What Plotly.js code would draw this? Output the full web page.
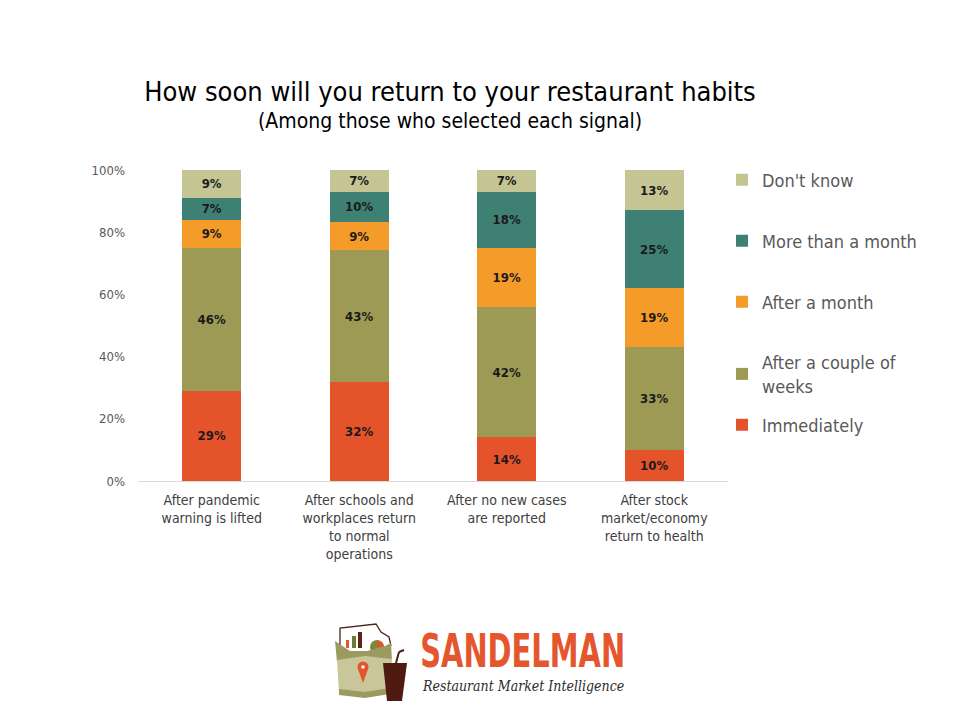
<!DOCTYPE html>
<html>
<head>
<meta charset="utf-8">
<script src="https://cdn.plot.ly/plotly-3.0.1.min.js"></script>
<style>html,body{margin:0;padding:0;background:#fff;}#chart{width:960px;height:720px;}</style>
</head>
<body>
<div id="chart"></div>
<script>
const categories = [
  "After pandemic<br>warning is lifted",
  "After schools and<br>workplaces return<br>to normal<br>operations",
  "After no new cases<br>are reported",
  "After stock<br>market/economy<br>return to health"
];
const immediately = [29, 32, 14, 10];
const coupleWeeks = [46, 43, 42, 33];
const afterMonth = [9, 9, 19, 19];
const moreThanMonth = [7, 10, 18, 25];
const dontKnow = [9, 7, 7, 13];
const yTickVals = [0, 20, 40, 60, 80, 100];
const yTickText = ["0%", "20%", "40%", "60%", "80%", "100%"];

const seriesNames = ["Immediately", "After a couple of<br>weeks", "After a month", "More than a month", "Don't know"];
const seriesData = [immediately, coupleWeeks, afterMonth, moreThanMonth, dontKnow];
const seriesColors = ["#E5532B", "#9C9A55", "#F59B2A", "#3F8075", "#C5C593"];

const FONT = "DejaVu Sans Condensed, DejaVu Sans, sans-serif";

// pixel -> paper helpers
const L = 138, R = 728, T = 170, B = 481;
const X = p => (p - L) / (R - L);
const Y = p => (B - p) / (B - T);

const legendIds = ["legend5", "legend4", "legend3", "legend2", "legend"];
const legendCenters = [425, 374, 302, 241, 180];

const traces = seriesData.map((vals, i) => ({
  type: "bar",
  name: seriesNames[i],
  legend: legendIds[i],
  x: categories,
  y: vals,
  text: vals.map(v => v + "%"),
  textposition: "inside",
  insidetextanchor: "middle",
  textangle: 0,
  textfont: {family: FONT, size: 13, color: "#1a1a1a", weight: "bold"},
  marker: {color: seriesColors[i], line: {width: 0}},
  hoverinfo: "none"
}));

function rect(x0, y0, x1, y1, color) {
  return {type: "rect", xref: "paper", yref: "paper", x0: X(x0), x1: X(x1), y0: Y(y1), y1: Y(y0),
          fillcolor: color, line: {width: 0}, layer: "above"};
}
function path(pts, color) {
  let d = pts.map((p, i) => (i ? "L" : "M") + X(p[0]) + "," + Y(p[1])).join(" ") + " Z";
  return {type: "path", xref: "paper", yref: "paper", path: d, fillcolor: color, line: {width: 0}, layer: "above"};
}
function circle(cx, cy, r, color) {
  return {type: "circle", xref: "paper", yref: "paper", x0: X(cx - r), x1: X(cx + r), y0: Y(cy + r), y1: Y(cy - r),
          fillcolor: color, line: {width: 0}, layer: "above"};
}

const shapes = [
  // sheet with chart
  path([[340,628],[376,624],[381,632],[389,637],[391,660],[340,660]], "#ffffff"),
  {type:"path", xref:"paper", yref:"paper",
   path:"M"+X(340)+","+Y(645)+" L"+X(340)+","+Y(628)+" L"+X(376)+","+Y(624)+" L"+X(381)+","+Y(632)+" L"+X(389)+","+Y(637)+" L"+X(391)+","+Y(646),
   fillcolor:"rgba(0,0,0,0)", line:{color:"#4a2418", width:1.3}, layer:"above"},
  rect(346, 640, 349, 648, "#E5532B"),
  rect(352, 636, 356, 648, "#6E7A3A"),
  rect(358, 632, 362, 648, "#5C2418"),
  circle(377, 647, 7, "#7A8A3A"),
  path([[377,647],[377,640],[383,643],[384,648]], "#E5532B"),
  // back darker fold
  path([[335,641],[350,651],[367,651],[385,646],[391,643],[392,661],[337,662]], "#9C9A5E"),
  // front light panel
  path([[337,660],[365,656],[392,659],[390,692],[365,696],[339,693]], "#C9C69A"),
  // bottom strip
  path([[339,689],[365,692],[390,688],[390,694],[365,698],[339,695]], "#9C9A5E"),
  // pin
  circle(363, 667, 5.5, "#E5532B"),
  path([[357.8,668.5],[368.2,668.5],[363,683]], "#E5532B"),
  circle(363, 667, 1.8, "#ffffff"),
  // cup
  path([[383,663],[407,663],[402,701],[387,701]], "#4F1A12"),
  {type:"line", xref:"paper", yref:"paper", x0:X(396), y0:Y(663), x1:X(399), y1:Y(652), line:{color:"#4F1A12", width:2}, layer:"above"},
  {type:"line", xref:"paper", yref:"paper", x0:X(399), y0:Y(652), x1:X(404), y1:Y(650), line:{color:"#4F1A12", width:2}, layer:"above"}
];

const legendBase = {
  x: X(722), xanchor: "left", yanchor: "middle",
  font: {family: FONT, size: 18, color: "#595959"},
  itemwidth: 30,
  bgcolor: "rgba(0,0,0,0)"
};

const layout = {
  width: 960, height: 720,
  paper_bgcolor: "#ffffff", plot_bgcolor: "#ffffff",
  margin: {l: L, r: 960 - R, t: T, b: 720 - B, pad: 0},
  font: {family: FONT, color: "#595959"},
  title: {
    text: "How soon will you return to your restaurant habits",
    font: {family: FONT, size: 27, color: "#000000"},
    xref: "container", yref: "container",
    x: 450 / 960, xanchor: "center",
    y: 1 - 92 / 720, yanchor: "middle"
  },
  barmode: "stack",
  barnorm: "percent",
  bargap: 0.6,
  showlegend: true,
  xaxis: {
    showline: true, linecolor: "#d9d9d9", linewidth: 1,
    ticks: "", showgrid: false,
    ticklabelstandoff: 6,
    tickfont: {family: FONT, size: 14, color: "#404040"},
    fixedrange: true
  },
  yaxis: {
    range: [0, 100],
    tickvals: yTickVals, ticktext: yTickText,
    showgrid: false, zeroline: false, showline: false, ticks: "",
    ticklabelstandoff: 12,
    tickfont: {family: FONT, size: 13, color: "#595959"},
    fixedrange: true
  },
  shapes: shapes,
  annotations: [
    {xref: "paper", yref: "paper", x: X(450), y: Y(121), xanchor: "center", yanchor: "middle",
     text: "(Among those who selected each signal)", showarrow: false,
     font: {family: FONT, size: 21, color: "#000000"}},
    {xref: "paper", yref: "paper", x: X(522.5), y: Y(651), xanchor: "center", yanchor: "middle",
     text: "SANDELMAN", showarrow: false,
     font: {family: "DejaVu Sans Condensed, DejaVu Sans, sans-serif", size: 46, color: "#E4572E", weight: "bold"}},
    {xref: "paper", yref: "paper", x: X(522.5), y: Y(686), xanchor: "center", yanchor: "middle",
     text: "<i>Restaurant Market Intelligence</i>", showarrow: false,
     font: {family: "DejaVu Serif Condensed, DejaVu Serif, serif", size: 14, color: "#2b2b2b"}}
  ]
};
legendIds.forEach((id, i) => {
  layout[id] = Object.assign({}, legendBase, {y: Y(legendCenters[i])});
});

Plotly.newPlot("chart", traces, layout, {displayModeBar: false, staticPlot: true}).then(gd => {
  const texts = gd.querySelectorAll("text.annotation-text");
  texts.forEach(t => {
    if (t.textContent === "SANDELMAN") {
      t.setAttribute("textLength", "205");
      t.setAttribute("lengthAdjust", "spacingAndGlyphs");
    }
  });
});
</script>
</body>
</html>
